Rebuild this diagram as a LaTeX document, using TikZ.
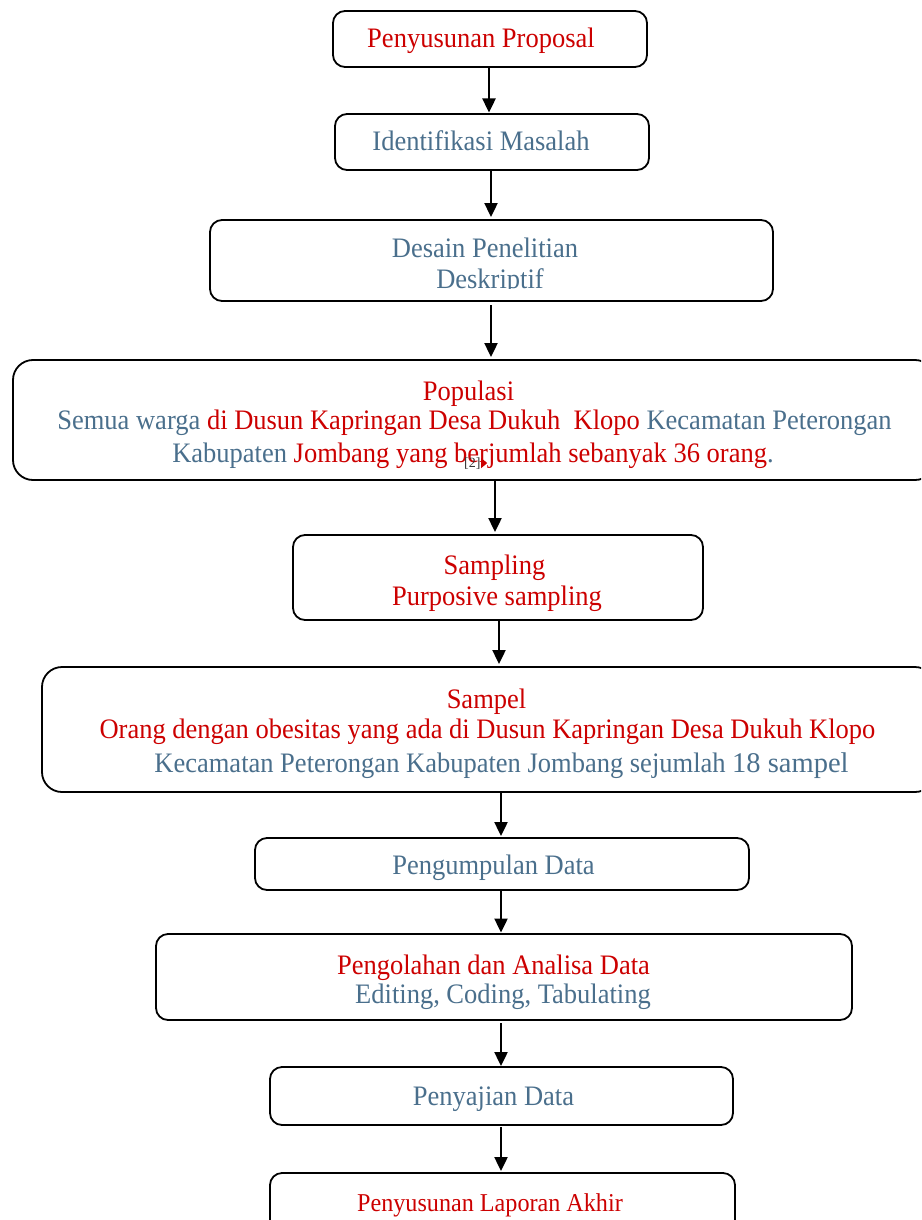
\documentclass[tikz,border=0pt]{standalone}
\usepackage{fontspec}
\setmainfont[FakeStretch=0.94]{Liberation Serif}
\newfontfamily\plainserif{Liberation Serif}
\usetikzlibrary{arrows.meta}
\definecolor{tred}{HTML}{CC0000}
\definecolor{tblue}{HTML}{4A6F8C}
\begin{document}
\begin{tikzpicture}[x=1pt,y=-1pt,
  box/.style={draw=black,line width=1.8pt,rounded corners=#1,inner sep=0pt,outer sep=0pt},
  box/.default=12pt,
  txt/.style={anchor=base,inner sep=0pt,font=\fontsize{28.2}{32}\selectfont},
  arr/.style={line width=2.4pt,-{Triangle[length=14pt,width=13pt]}}]
\useasboundingbox (0,0) rectangle (921,1220);
\clip (0,0) rectangle (921,1220);

% boxes
\node[box,minimum width=314pt,minimum height=56pt] (b1) at (490,39) {};
\node[box,minimum width=314pt,minimum height=56pt] (b2) at (492,142) {};
\node[box,minimum width=563pt,minimum height=81pt] (b3) at (491.5,260.5) {};
\node[box=20pt,minimum width=922pt,minimum height=120pt] (b4) at (474,420) {};
\node[box,minimum width=410pt,minimum height=85pt] (b5) at (498,577.5) {};
\node[box=20pt,minimum width=893pt,minimum height=125pt] (b6) at (488.5,729.5) {};
\node[box,minimum width=494pt,minimum height=52pt] (b7) at (502,864) {};
\node[box,minimum width=696pt,minimum height=86pt] (b8) at (504,977) {};
\node[box,minimum width=463pt,minimum height=58pt] (b9) at (501.5,1096) {};
\node[box,minimum width=465pt,minimum height=67pt] (b10) at (502.5,1206.5) {};

% texts
\node[txt,text=tred] (t1) at (481,48) {Penyusunan Proposal};
\node[txt,text=tblue] (t2) at (481,150) {Identifikasi Masalah};
\node[txt,text=tblue] (t3a) at (485,257) {Desain Penelitian};
\begin{scope}
  \clip (220,265) rectangle (760,288);
  \node[txt,text=tblue] (t3b) at (490,288) {Deskriptif};
\end{scope}
\node[txt,text=tred] (t4a) at (468.5,400) {Populasi};
\node[txt,text=tblue] (t4b) at (474.5,429) {Semua warga {\color{tred}di Dusun Kapringan Desa Dukuh\ \ Klopo} Kecamatan Peterongan};
\node[txt,text=tblue] (t4c) at (473,462) {Kabupaten {\color{tred}Jombang yang berjumlah sebanyak 36 orang}.};
\node[anchor=base west,inner sep=0pt,font=\plainserif\fontsize{14}{14}\selectfont,text=black!80] (mk) at (464,467) {[2]};
\fill[tred] (mk.east) ++(0.5,-5) -- ++(6,5) -- ++(-6,5) -- cycle;
\node[txt,text=tred] (t5a) at (494.5,574) {Sampling};
\node[txt,text=tred] (t5b) at (497,605) {Purposive sampling};
\node[txt,text=tred] (t6a) at (486.5,708) {Sampel};
\node[txt,text=tred] (t6b) at (487.5,738) {Orang dengan obesitas yang ada di Dusun Kapringan Desa Dukuh Klopo};
\node[txt,text=tblue] (t6c) at (501.5,772) {Kecamatan Peterongan Kabupaten Jombang sejumlah {\plainserif\fontsize{28.5}{32}\selectfont 18 sampel}};
\node[txt,text=tblue] (t7) at (493.5,874) {Pengumpulan Data};
\node[txt,text=tred] (t8a) at (493.5,974) {Pengolahan dan Analisa Data};
\node[txt,text=tblue] (t8b) at (503,1003) {Editing, Coding, Tabulating};
\node[txt,text=tblue] (t9) at (493.5,1105) {Penyajian Data};
\node[txt,text=tred,font=\fontsize{25.7}{29}\selectfont] (t10) at (490,1211) {Penyusunan Laporan Akhir};

% connectors
\draw[arr,shorten >=1.5pt] ([xshift=-1pt]b1.south) -- ([xshift=-3pt]b2.north);
\draw[arr,shorten >=3pt] ([xshift=-1pt]b2.south) -- ([xshift=-0.5pt]b3.north);
\draw[arr,shorten <=4pt,shorten >=3pt] ([xshift=-0.5pt]b3.south) -- ([xshift=17pt]b4.north);
\draw[arr,shorten >=3pt] ([xshift=21pt]b4.south) -- ([xshift=-3pt]b5.north);
\draw[arr,shorten >=3pt] ([xshift=1pt]b5.south) -- ([xshift=10.5pt]b6.north);
\draw[arr,shorten >=2pt] ([xshift=12.5pt]b6.south) -- ([xshift=-1pt]b7.north);
\draw[arr,shorten >=1.5pt] ([xshift=-1pt]b7.south) -- ([xshift=-3pt]b8.north);
\draw[arr,shorten <=3pt,shorten >=1pt] ([xshift=-3pt]b8.south) -- ([xshift=-0.5pt]b9.north);
\draw[arr,shorten <=2pt,shorten >=2pt] ([xshift=-0.5pt]b9.south) -- ([xshift=-1.5pt]b10.north);
\end{tikzpicture}
\end{document}
